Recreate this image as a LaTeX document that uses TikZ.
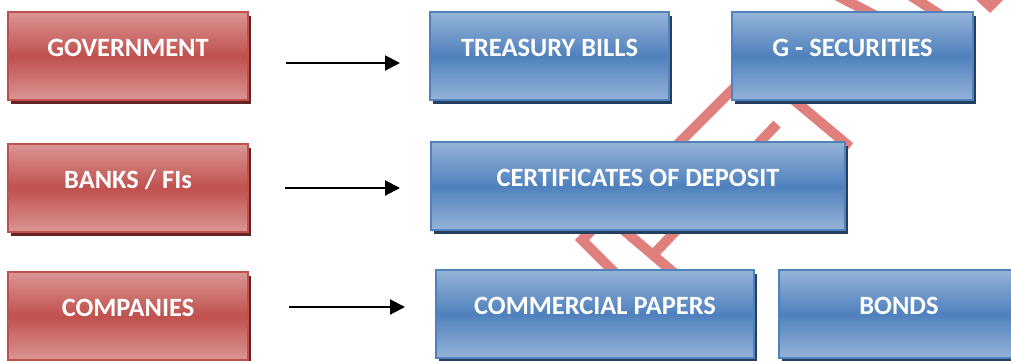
\documentclass[tikz,border=0pt]{standalone}
\usepackage{fontspec}
\setmainfont{Carlito}
\usetikzlibrary{arrows.meta, shadows}
\tikzstyle{chart} = [x = 1pt, y = -1pt]
\definecolor{issuerColor}{RGB}{192,80,77}
\definecolor{issuerLight}{RGB}{218,150,148}
\definecolor{issuerShadow}{RGB}{99,36,35}
\definecolor{instrumentColor}{RGB}{79,129,189}
\definecolor{instrumentLight}{RGB}{149,179,215}
\definecolor{instrumentShadow}{RGB}{36,63,96}
\definecolor{watermarkColor}{RGB}{224,128,125}
\tikzstyle{issuerStyle} = [draw = issuerColor, line width = 2pt, top color = issuerLight, bottom color = issuerLight, middle color = issuerColor, minimum width = 240pt, minimum height = 88pt, inner sep = 0pt, general shadow = {fill = issuerShadow, shadow xshift = 3pt, shadow yshift = -4pt}]
\tikzstyle{instrumentStyle} = [draw = instrumentColor, line width = 2pt, top color = instrumentLight, bottom color = instrumentLight, middle color = instrumentColor, minimum height = 88pt, inner sep = 0pt, general shadow = {fill = instrumentShadow, shadow xshift = 3pt, shadow yshift = -4pt}]
\tikzstyle{boxText} = [text = white, font = \fontsize{26.4}{30}\selectfont\bfseries, inner sep = 0pt, text height = 17pt, text depth = 0pt]
\tikzstyle{flowArrow} = [line width = 2pt, -{Triangle[length = 15pt, width = 15pt]}]
\tikzstyle{watermarkLine} = [color = watermarkColor, line width = 10pt, miter limit = 4]
\newcommand{\issuerBox}[4]{\node [issuerStyle] (#1) at (#2,#3) {};
  \node [boxText] (#1Text) at ([yshift = 8pt] #1.center) {#4};}
\newcommand{\instrumentBox}[5]{\node [instrumentStyle, minimum width = #4pt] (#1) at (#2,#3) {};
  \node [boxText] (#1Text) at ([yshift = 8pt] #1.center) {#5};}

\begin{document}
\begin{tikzpicture}[chart]
  \clip (0,0) rectangle (1011,360);
  \fill [white] (0,0) rectangle (1011,360);

  % watermark behind the boxes
  \draw [watermarkLine] (802,20) -- (582,240) -- (645,303);
  \draw [watermarkLine] (600,210) -- (700,295);
  \draw [watermarkLine] (652,256) -- (777,124);
  \draw [watermarkLine] (770,80) -- (850,147);
  \draw [watermarkLine] (830,-8) -- (880,18);
  \draw [watermarkLine] (905,-8) -- (945,18);
  \draw [watermarkLine] (975,-8) -- (990,6) -- (1004,-8);

  \issuerBox{government}{128}{56}{GOVERNMENT}
  \issuerBox{banks}{128}{188}{BANKS / FIs}
  \issuerBox{companies}{128}{316}{COMPANIES}

  \instrumentBox{treasury}{549.5}{56}{239}{TREASURY BILLS}
  \instrumentBox{gsec}{852.5}{56}{241}{G - SECURITIES}
  \instrumentBox{deposit}{638}{186}{414}{CERTIFICATES OF DEPOSIT}
  \instrumentBox{papers}{595}{314}{318}{COMMERCIAL PAPERS}
  \instrumentBox{bonds}{899}{314}{240}{BONDS}

  \coordinate (governmentFrom) at (286,63);
  \coordinate (governmentTo) at (400,63);
  \coordinate (banksFrom) at (285,188);
  \coordinate (banksTo) at (400,188);
  \coordinate (companiesFrom) at (289,307);
  \coordinate (companiesTo) at (405,307);
  \draw [flowArrow] (governmentFrom) -- (governmentTo);
  \draw [flowArrow] (banksFrom) -- (banksTo);
  \draw [flowArrow] (companiesFrom) -- (companiesTo);
\end{tikzpicture}
\end{document}
